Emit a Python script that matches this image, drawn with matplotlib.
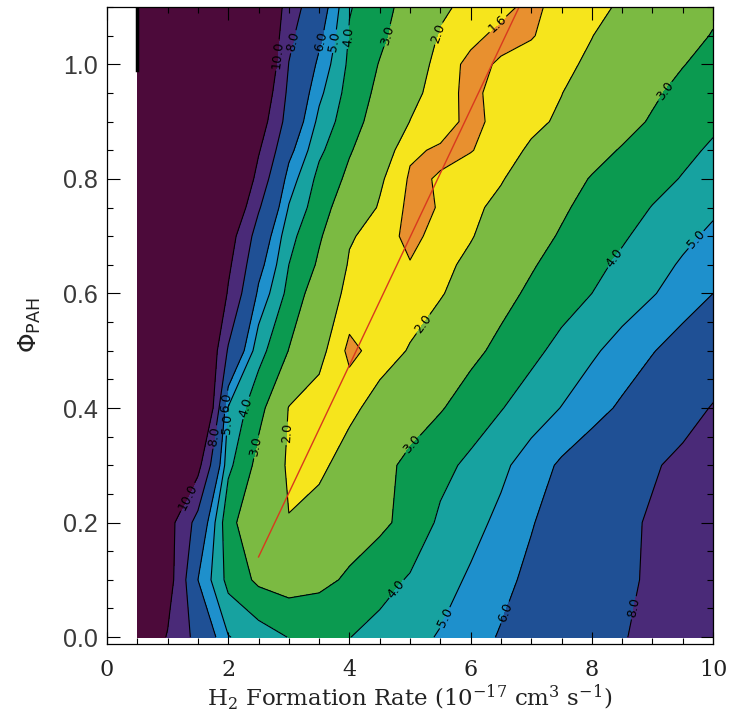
import numpy as np
import matplotlib
matplotlib.use("Agg")
import matplotlib.pyplot as plt
from matplotlib.ticker import MultipleLocator, FormatStrFormatter

# -----------------------------
# grid of the models
# -----------------------------
rate = [0.5, 1.0, 1.5, 2.0, 2.5, 3.0, 3.5, 4.0, 4.5, 5.0,
        5.5, 6.0, 6.5, 7.0, 7.5, 8.0, 8.5, 9.0, 9.5, 10.0]
phi = [0.0, 0.1, 0.2, 0.3, 0.4, 0.5, 0.6, 0.65, 0.7, 0.75,
       0.8, 0.85, 0.9, 0.95, 1.0, 1.05, 1.1]

# contoured value along each phi row (left -> right)
row_000 = [12.3, 9.85, 7.38, 5.05, 4.5, 3.97, 3.85, 3.98, 4.35, 4.7, 5.08, 5.59, 6.09, 6.55, 7.0, 7.47, 7.93, 8.3, 8.6, 8.9]
row_010 = [13.0, 11.0, 6.0, 3.68, 2.8, 2.55, 2.75, 3.14, 3.62, 4.1, 4.61, 5.14, 5.71, 6.25, 6.74, 7.24, 7.73, 8.2, 8.6, 9.0]
row_020 = [14.0, 10.86, 7.3, 3.23, 2.4, 2.02, 2.3, 2.55, 2.8, 3.3, 4.18, 4.67, 5.24, 5.93, 6.51, 7.07, 7.63, 8.19, 8.5, 8.8]
row_030 = [15.0, 13.0, 10.64, 4.24, 2.68, 1.9, 1.85, 2.3, 2.74, 3.2, 3.7, 4.22, 4.78, 5.46, 6.17, 6.72, 7.28, 7.83, 8.39, 8.94]
row_040 = [17.0, 16.0, 15.07, 4.93, 3.29, 1.97, 1.77, 1.85, 2.24, 2.59, 2.93, 3.42, 3.95, 4.49, 5.03, 5.6, 6.17, 6.78, 7.39, 8.1]
row_050 = [20.0, 17.0, 13.9, 7.8, 4.37, 2.97, 2.16, 1.5, 1.75, 2.04, 2.41, 2.78, 3.22, 3.75, 4.29, 4.84, 5.39, 5.94, 6.5, 7.0]
row_060 = [20.0, 18.0, 15.0, 9.79, 5.76, 3.68, 2.4, 1.85, 1.72, 1.76, 1.95, 2.31, 2.73, 3.15, 3.58, 4.0, 4.47, 4.93, 5.46, 6.0]
row_065 = [20.0, 19.0, 17.0, 10.4, 6.46, 4.0, 2.85, 1.93, 1.75, 1.62, 1.84, 2.14, 2.52, 2.92, 3.33, 3.75, 4.18, 4.63, 5.12, 5.6]
row_070 = [20.0, 20.0, 19.0, 11.0, 7.16, 4.32, 3.11, 2.06, 1.78, 1.5, 1.73, 1.96, 2.31, 2.69, 3.08, 3.49, 3.89, 4.33, 4.77, 5.2]
row_075 = [20.0, 20.0, 18.5, 12.5, 8.2, 4.93, 3.4, 2.42, 1.95, 1.5, 1.62, 1.88, 2.14, 2.49, 2.88, 3.27, 3.64, 4.03, 4.41, 4.83]
row_080 = [20.0, 20.0, 18.0, 14.0, 9.24, 5.53, 3.69, 2.78, 2.08, 1.55, 1.62, 1.81, 1.96, 2.29, 2.67, 3.05, 3.38, 3.72, 4.05, 4.45]
row_085 = [20.0, 20.0, 19.0, 15.5, 10.2, 6.37, 4.2, 3.08, 2.34, 1.66, 1.55, 1.58, 1.78, 2.08, 2.38, 2.73, 3.06, 3.4, 3.8, 4.12]
row_090 = [20.0, 20.0, 20.0, 17.0, 11.2, 7.2, 4.72, 3.37, 2.59, 1.99, 1.76, 1.5, 1.71, 1.88, 2.08, 2.41, 2.73, 3.08, 3.5, 3.85]
row_095 = [20.0, 20.0, 20.0, 17.0, 12.1, 7.58, 5.24, 3.58, 2.77, 2.18, 1.75, 1.5, 1.75, 1.83, 1.99, 2.25, 2.56, 2.88, 3.22, 3.55]
row_100 = [20.0, 20.0, 20.0, 17.0, 13.05, 7.96, 5.75, 3.78, 2.95, 2.36, 1.8, 1.5, 1.64, 1.77, 1.9, 2.08, 2.38, 2.67, 2.97, 3.27]
row_105 = [20.0, 20.0, 20.0, 17.5, 13.6, 8.4, 6.29, 3.92, 3.2, 2.43, 1.95, 1.7, 1.5, 1.57, 1.8, 1.99, 2.2, 2.51, 2.81, 3.03]
row_110 = [20.0, 20.0, 20.0, 18.0, 14.1, 8.85, 6.83, 4.06, 3.46, 2.5, 2.1, 1.85, 1.7, 1.5, 1.75, 1.9, 2.05, 2.35, 2.65, 2.9]

levels = [1.6, 2.0, 3.0, 4.0, 5.0, 6.0, 8.0, 10.0]
# one colour per band, lowest band first
band_colors = ["#e8902f", "#f6e51c", "#7bba42", "#0b9a50", "#17a2a0",
               "#1e90cc", "#1f5095", "#4a2a78", "#4c0a3a"]

# red best-fit line
fit_rate = [2.5, 6.8]
fit_phi = [0.14, 1.10]

# short dark stroke at the left edge of the grid, top
edge_rate = [0.5, 0.5]
edge_phi = [0.99, 1.1]

# -----------------------------
# figure
# -----------------------------
fig = plt.figure(figsize=(7.49, 7.19), dpi=100)
ax = fig.add_axes([0.1429, 0.1043, 0.8091, 0.8859])

z = np.array([row_000, row_010, row_020, row_030, row_040, row_050, row_060,
              row_065, row_070, row_075, row_080, row_085, row_090, row_095,
              row_100, row_105, row_110])

ax.contourf(rate, phi, z, levels=[0.0] + levels + [100.0], colors=band_colors)

# where the labels sit in the original
label_spots = {
    1.6: [(6.49, 1.065)],
    2.0: [(5.36, 1.058), (2.93, 0.356), (5.24, 0.545)],
    3.0: [(4.64, 1.05), (2.55, 0.33), (5.11, 0.33), (9.3, 0.945)],
    4.0: [(4.02, 1.047), (2.3, 0.40), (8.36, 0.663), (4.8, 0.082)],
    5.0: [(3.77, 1.04), (1.93, 0.373), (9.68, 0.698), (5.55, 0.035)],
    6.0: [(3.52, 1.04), (1.96, 0.41), (6.61, 0.041)],
    8.0: [(3.05, 1.04), (1.74, 0.35), (8.74, 0.05)],
    10.0: [(2.83, 1.016), (1.33, 0.245)],
}
# one line set per level, so each label only snaps to its own line
for lev in levels:
    cs = ax.contour(rate, phi, z, levels=[lev], colors="black", linewidths=0.8)
    ax.clabel(cs, manual=label_spots[lev], fmt="%.1f", fontsize=9,
              inline=True, inline_spacing=2, colors="black")

ax.plot(fit_rate, fit_phi, color="#d8391e", lw=1.0)
ax.plot(edge_rate, edge_phi, color="black", lw=2.5)

ax.set_xlim(0, 10)
ax.set_ylim(-0.012, 1.1)

ax.xaxis.set_major_locator(MultipleLocator(2))
ax.xaxis.set_minor_locator(MultipleLocator(0.5))
ax.yaxis.set_major_locator(MultipleLocator(0.2))
ax.yaxis.set_minor_locator(MultipleLocator(0.05))
ax.xaxis.set_major_formatter(FormatStrFormatter("%d"))
ax.yaxis.set_major_formatter(FormatStrFormatter("%.1f"))

ax.tick_params(which="both", direction="in", top=True, right=True, width=0.8)
ax.tick_params(which="major", length=9)
ax.tick_params(which="minor", length=4.5)
ax.tick_params(axis="x", pad=11, labelsize=16, labelcolor="#222222")
ax.tick_params(axis="y", pad=6.5, labelsize=18, labelcolor="#3a3a3a")
for lab in ax.get_xticklabels():
    lab.set_family("DejaVu Serif")
for lab in ax.get_yticklabels():
    lab.set_family("Liberation Sans")

ax.set_xlabel(r"H$_2$ Formation Rate (10$^{-17}$ cm$^3$ s$^{-1}$)",
              family="DejaVu Serif", fontsize=16.5, math_fontfamily="dejavuserif",
              color="#222222")
ax.xaxis.set_label_coords(0.5, -0.0605)
ax.set_ylabel(r"$\Phi_{\mathrm{PAH}}$", fontsize=18, math_fontfamily="dejavusans",
              color="#222222")
ax.yaxis.set_label_coords(-0.106, 0.5)

for sp in ax.spines.values():
    sp.set_linewidth(0.9)

fig.savefig("out.png", dpi=100)
